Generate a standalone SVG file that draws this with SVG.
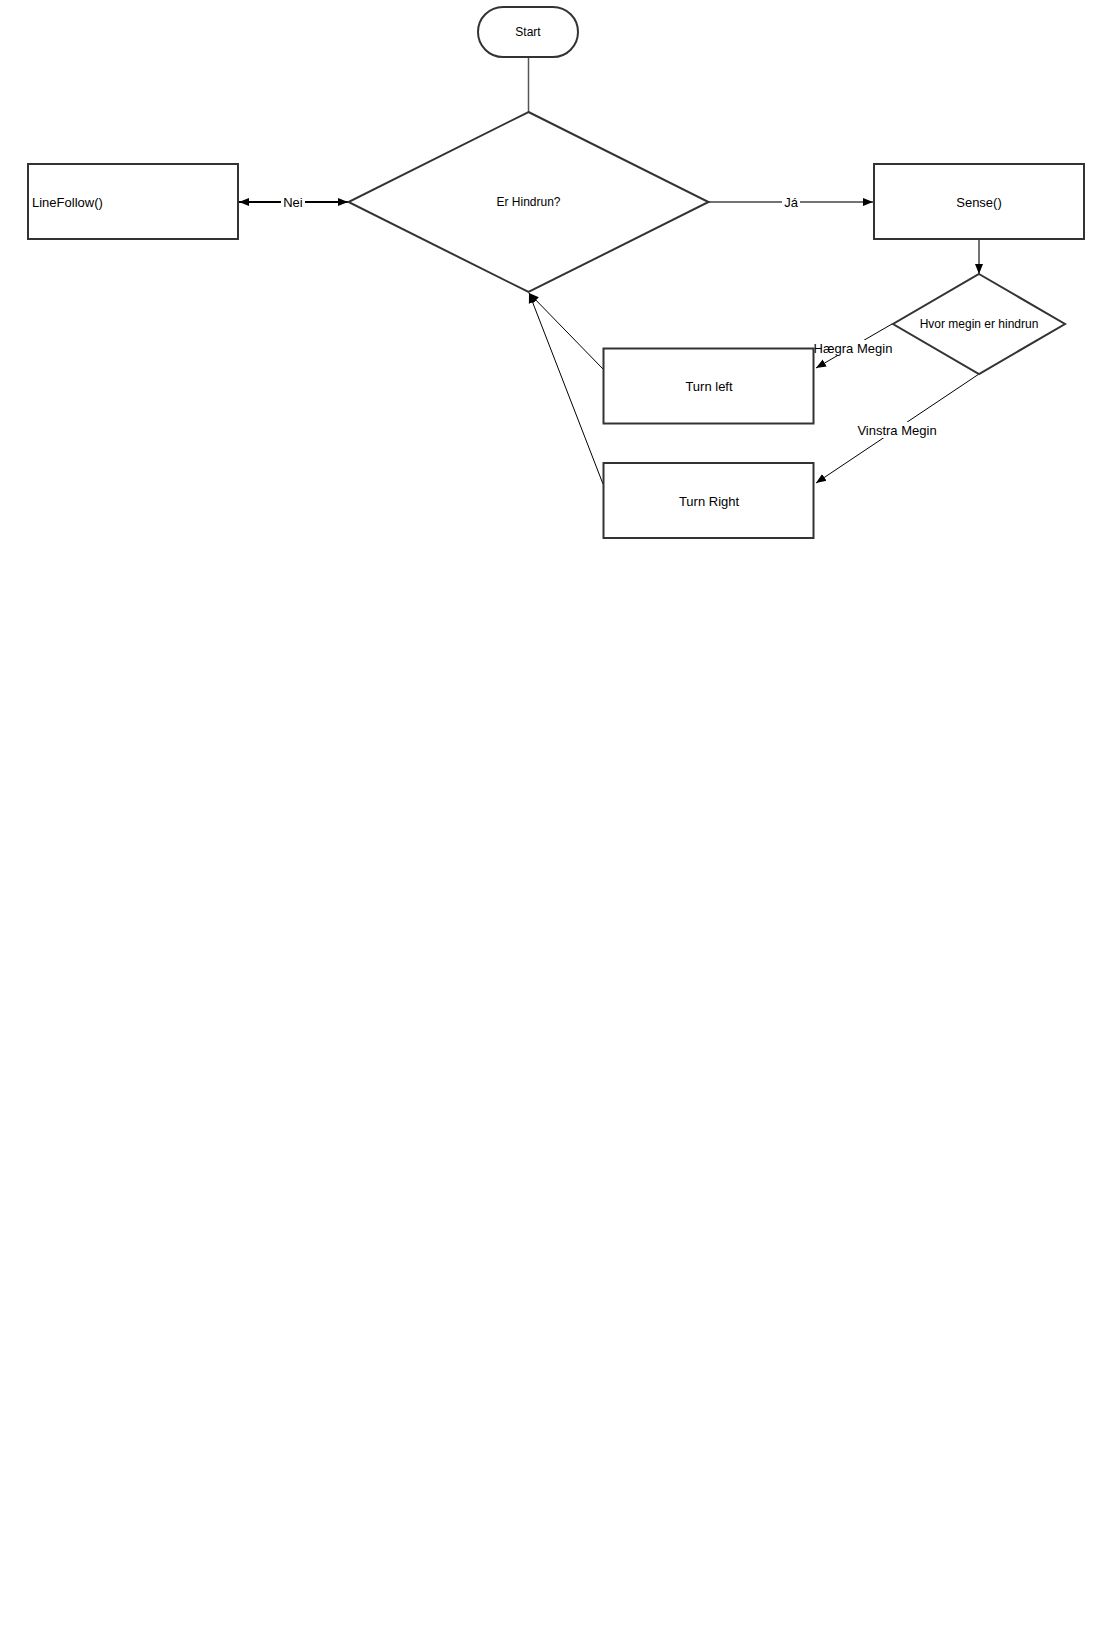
<svg xmlns="http://www.w3.org/2000/svg" width="1103" height="1641" viewBox="0 0 1103 1641">
<style>
.node{fill:#fff;stroke:#333;stroke-width:2}
.t{font-family:"Liberation Sans",Arial,sans-serif;font-size:13px;fill:#000}
.s{font-size:12px}
.c{fill:none;stroke:#000;stroke-width:1}
.lbl{fill:#fff;stroke:none}
</style>
<defs>
<marker id="ah" markerUnits="userSpaceOnUse" markerWidth="10" markerHeight="10" viewBox="0 0 10 10" refX="10" refY="5" orient="auto">
<path d="M0,1 L10,5 L0,9 Z" fill="#000"/>
</marker>
<marker id="ahs" markerUnits="userSpaceOnUse" markerWidth="10" markerHeight="10" viewBox="0 0 10 10" refX="0" refY="5" orient="auto">
<path d="M10,1 L0,5 L10,9 Z" fill="#000"/>
</marker>
</defs>
<rect width="1103" height="1641" fill="#fff"/>
<g id="connectors">
<line class="c" x1="528.5" y1="57" x2="528.5" y2="112" style="stroke:#555;stroke-width:1.5"/>
<line class="c" x1="239" y1="202" x2="348" y2="202" style="stroke-width:2" marker-start="url(#ahs)" marker-end="url(#ah)"/>
<rect class="lbl" x="281" y="194" width="24" height="16"/>
<text class="t" x="293" y="207" text-anchor="middle">Nei</text>
<line class="c" x1="709" y1="202" x2="873" y2="202" style="stroke:#444;stroke-width:1.5" marker-end="url(#ah)"/>
<rect class="lbl" x="782" y="194" width="18" height="16"/>
<text class="t" x="791" y="207" text-anchor="middle">Já</text>
<line class="c" x1="979" y1="240" x2="979" y2="274" style="stroke:#444;stroke-width:1.5" marker-end="url(#ah)"/>
<line class="c" x1="892" y1="324" x2="816" y2="368" marker-end="url(#ah)"/>
<rect class="lbl" x="814" y="340" width="79" height="15"/>
<text class="t" x="853" y="353" text-anchor="middle">Hægra Megin</text>
<line class="c" x1="979" y1="374" x2="816" y2="483" marker-end="url(#ah)"/>
<rect class="lbl" x="857" y="422" width="80" height="16"/>
<text class="t" x="897" y="435" text-anchor="middle">Vinstra Megin</text>
<line class="c" x1="603" y1="369" x2="529" y2="293" marker-end="url(#ah)"/>
<line class="c" x1="603" y1="484" x2="529" y2="293" marker-end="url(#ah)"/>
</g>
<g id="start">
<rect class="node" x="478" y="7" width="100" height="50" rx="25" ry="25"/>
<text class="t s" x="528" y="36" text-anchor="middle">Start</text>
</g>
<g id="er-hindrun">
<polygon class="node" points="528.5,112 708.5,202 528.5,292 348.5,202"/>
<text class="t s" x="528.5" y="206" text-anchor="middle">Er Hindrun?</text>
</g>
<g id="linefollow">
<rect class="node" x="28" y="164" width="210" height="75"/>
<text class="t" x="32" y="207">LineFollow()</text>
</g>
<g id="sense">
<rect class="node" x="874" y="164" width="210" height="75"/>
<text class="t" x="979" y="207" text-anchor="middle">Sense()</text>
</g>
<g id="hvor-megin">
<polygon class="node" points="979,274 1065,324 979,374 893,324"/>
<text class="t s" x="979" y="328" text-anchor="middle">Hvor megin er hindrun</text>
</g>
<g id="turn-left">
<rect class="node" x="603.5" y="348.5" width="210" height="75"/>
<text class="t" x="709" y="391" text-anchor="middle">Turn left</text>
</g>
<g id="turn-right">
<rect class="node" x="603.5" y="463" width="210" height="75"/>
<text class="t" x="709" y="506" text-anchor="middle">Turn Right</text>
</g>
</svg>
